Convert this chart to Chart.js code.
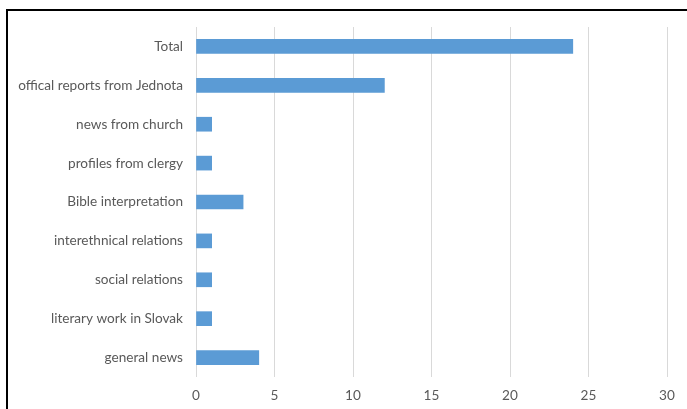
<!DOCTYPE html>
<html>
<head>
<meta charset="utf-8">
<script src="https://cdn.jsdelivr.net/npm/chart.js@4"></script>
<style>
    html, body { margin: 0; padding: 0; background: #fff; }
    #wrap { position: absolute; left: 0; top: 0; width: 687px; height: 409px; }
    #frame { position: absolute; left: 6px; top: 9px; right: -5px; bottom: -5px;
             border-left: 2px solid #000; border-top: 2px solid #000; }
    canvas { position: absolute; left: 0; top: 0; }
</style>
</head>
<body>
<div id="wrap">
    <div id="frame"></div>
    <canvas id="chart" width="687" height="409"></canvas>
</div>
<script>
// categories, top to bottom
var categories = ['Total', 'offical reports from Jednota', 'news from church', 'profiles from clergy',
    'Bible interpretation', 'interethnical relations', 'social relations', 'literary work in Slovak', 'general news'];
var counts = [24, 12, 1, 1, 3, 1, 1, 1, 4];
var xTicks = [0, 5, 10, 15, 20, 25, 30];

var ctx = document.querySelector('#chart').getContext('2d');
var chart = new Chart(ctx, {
    type: 'bar',
    data: {
        labels: categories,
        datasets: [{
            data: counts,
            backgroundColor: '#5b9bd5',
            barThickness: 14
        }]
    },
    options: {
        indexAxis: 'y',
        responsive: false,
        animation: false,
        layout: { padding: { top: 27, right: 20, left: 0, bottom: 0 } },
        plugins: { legend: { display: false }, tooltip: { enabled: false } },
        scales: {
            x: {
                min: xTicks[0],
                max: xTicks[xTicks.length - 1],
                afterBuildTicks: function (scale) {
                    scale.ticks = xTicks.map(function (v) { return { value: v }; });
                },
                afterFit: function (scale) { scale.height = 32; },
                grid: { color: '#d9d9d9', drawTicks: false },
                border: { display: false },
                ticks: { color: '#595959', padding: 10, font: { family: 'Lato', size: 13.6 } }
            },
            y: {
                afterFit: function (scale) { scale.width = 196; },
                grid: { display: false, drawTicks: false },
                border: { display: false },
                ticks: { color: '#595959', padding: 13, font: { family: 'Lato', size: 13.6 } }
            }
        }
    }
});
</script>
</body>
</html>
